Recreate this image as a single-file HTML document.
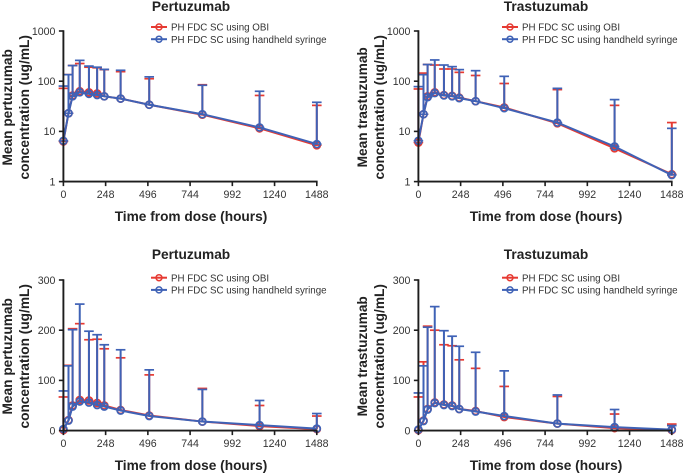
<!DOCTYPE html>
<html lang="en">
<head>
<meta charset="utf-8">
<title>Mean pertuzumab and trastuzumab concentration</title>
<style>
html,body{margin:0;padding:0;background:#fff;width:685px;height:474px;overflow:hidden}
svg{display:block;font-family:"Liberation Sans",Arial,sans-serif;filter:blur(0.3px)}
.tick{font-size:10.6px;fill:#333}
.legend{font-size:9.75px;fill:#333}
.title{font-size:13.7px;font-weight:bold;fill:#222}
.axt{font-size:13.7px;font-weight:bold;fill:#222}
</style>
</head>
<body>
<svg id="chart" xmlns="http://www.w3.org/2000/svg" width="685" height="474" viewBox="0 0 685 474"></svg>
<script>
const times = [0, 30, 54, 96, 150, 198, 240, 336, 504, 816, 1152, 1488];
const xTickLabels = [0, 248, 496, 744, 992, 1240, 1488];
const logTickLabels = [1, 10, 100, 1000];
const linearTickLabels = [0, 100, 200, 300];
const seriesNames = ["PH FDC SC using OBI", "PH FDC SC using handheld syringe"];

const pertLogObiMean = [6.3, 23, 52, 63, 60, 57, 50, 45, 34, 21.5, 11.5, 5.3];
const pertLogSyrMean = [6.5, 23, 50, 60, 56, 53, 50, 45, 34, 22, 12, 5.6];
const pertLogObiUpper = [72, 135, 205, 225, 190, 185, 170, 155, 112, 85, 52, 33];
const pertLogSyrUpper = [80, 135, 205, 260, 200, 190, 172, 165, 122, 83, 63, 38];

const trasLogObiMean = [6, 22, 50, 60, 53, 51, 47, 40, 30, 14.5, 4.6, 1.4];
const trasLogSyrMean = [6.5, 22, 48, 58, 52, 50, 46, 40, 29, 15, 5, 1.35];
const trasLogObiUpper = [70, 145, 215, 210, 175, 175, 150, 130, 90, 68, 33, 15];
const trasLogSyrUpper = [78, 135, 215, 265, 210, 195, 170, 162, 125, 72, 43, 11.5];

const pertLinObiMean = [1, 21, 50, 61, 60, 55, 50, 41, 30, 18, 9, 3];
const pertLinSyrMean = [3, 20, 48, 58, 56, 51, 48, 40, 29, 18, 11, 4];
const pertLinObiUpper = [67, 130, 203, 213, 181, 182, 163, 145, 111, 84, 50, 29];
const pertLinSyrUpper = [79, 129, 201, 252, 198, 191, 171, 161, 121, 82, 60, 34];

const trasLinObiMean = [1, 20, 43, 56, 52, 50, 43, 39, 27, 14, 5, 1];
const trasLinSyrMean = [2, 19, 42, 55, 51, 49, 43, 38, 29, 14, 7, 2];
const trasLinObiUpper = [67, 137, 208, 200, 171, 169, 141, 124, 88, 68, 33, 13];
const trasLinSyrUpper = [75, 129, 206, 247, 199, 188, 168, 156, 119, 71, 42, 10];

const RED = "#e63a32";
const BLUE = "#3f62b6";
const AXIS = "#1d1d1d";
const NS = "http://www.w3.org/2000/svg";
const root = document.getElementById("chart");

function make(parent, tag, props, text) {
  const node = document.createElementNS(NS, tag);
  for (const k in props) node.setAttribute(k, props[k]);
  if (text !== undefined) node.textContent = text;
  parent.appendChild(node);
  return node;
}

function drawSeries(panel, sx, sy, mean, upper, color, key, withLowerCap) {
  const g = make(panel, "g", {});
  
  
  times.forEach(function (t, i) {
    const x = sx(t);
    const bar = make(g, "line", {x1: x, x2: x, y1: sy(mean[i]), y2: sy(upper[i]), stroke: color, "stroke-width": 2});
    
    
    const cap = make(g, "line", {x1: x - 4.8, x2: x + 4.8, y1: sy(upper[i]), y2: sy(upper[i]), stroke: color, "stroke-width": 1.7});
    
    
    if (withLowerCap) {
      const low = make(g, "line", {x1: x - 4.8, x2: x + 4.8, y1: sy(mean[i]), y2: sy(mean[i]), stroke: color, "stroke-width": 1.4});
      
      
    }
  });
  const pts = times.map(function (t, i) { return sx(t).toFixed(2) + "," + sy(mean[i]).toFixed(2); }).join(" ");
  const line = make(g, "polyline", {points: pts, fill: "none", stroke: color, "stroke-width": 2});
  
  
  times.forEach(function (t, i) {
    const c = make(g, "circle", {cx: sx(t), cy: sy(mean[i]), r: 3.5, fill: "none", stroke: color, "stroke-width": 1.7});
    
    
  });
}

function drawPanel(cfg) {
  const panel = make(root, "g", {});
  
  
  const x0 = cfg.x0, x1 = cfg.x1, yTop = cfg.yTop, yBot = cfg.yBot;
  const sx = function (t) { return x0 + (t / 1488) * (x1 - x0); };
  const sy = cfg.log
    ? function (v) { return yBot - (Math.log10(v) / 3) * (yBot - yTop); }
    : function (v) { return yBot - (v / 300) * (yBot - yTop); };
  const cx = cfg.cx, tBase = yTop - (cfg.log ? 20 : 21);

  const title = make(panel, "text", {x: cx, y: tBase, "text-anchor": "middle", class: "title"}, cfg.title);
  
  

  drawSeries(panel, sx, sy, cfg.obiMean, cfg.obiUpper, RED, "obi", cfg.log);
  drawSeries(panel, sx, sy, cfg.syrMean, cfg.syrUpper, BLUE, "syringe", cfg.log);

  const yAxis = make(panel, "line", {x1: x0, x2: x0, y1: yTop - 0.8, y2: yBot + 0.8, stroke: AXIS, "stroke-width": 1.9});
  
  
  const xAxis = make(panel, "line", {x1: x0, x2: x1 + 0.8, y1: yBot, y2: yBot, stroke: AXIS, "stroke-width": 1.9});
  
  

  const yTicks = cfg.log ? logTickLabels : linearTickLabels;
  yTicks.forEach(function (v) {
    const y = sy(v);
    const m = make(panel, "line", {x1: x0 - 4.5, x2: x0, y1: y, y2: y, stroke: AXIS, "stroke-width": 1.6});
    
    
    const l = make(panel, "text", {x: x0 - 8, y: y + 3.8, "text-anchor": "end", class: "tick"}, String(v));
    
    
  });
  xTickLabels.forEach(function (v) {
    const x = sx(v);
    const m = make(panel, "line", {x1: x, x2: x, y1: yBot, y2: yBot + 4.5, stroke: AXIS, "stroke-width": 1.6});
    
    
    const l = make(panel, "text", {x: x, y: yBot + 16.5, "text-anchor": "middle", class: "tick"}, String(v));
    
    
  });

  const xt = make(panel, "text", {x: cx, y: yBot + 39.5, "text-anchor": "middle", class: "axt"}, "Time from dose (hours)");
  
  

  const yc = (yTop + yBot) / 2 + 1;
  const y1 = make(panel, "text", {transform: "translate(" + cfg.yb1 + " " + yc + ") rotate(-90)", "text-anchor": "middle", class: "axt"}, cfg.yLine1);
  
  
  const y2 = make(panel, "text", {transform: "translate(" + cfg.yb2 + " " + yc + ") rotate(-90)", "text-anchor": "middle", class: "axt"}, "concentration (ug/mL)");
  
  

  const legend = make(panel, "g", {});
  
  
  [RED, BLUE].forEach(function (color, i) {
    const ly = yTop + (cfg.log ? -4 : -2.3) + i * 12.2;
    const ll = make(legend, "line", {x1: cfg.lx, x2: cfg.lx + 16, y1: ly, y2: ly, stroke: color, "stroke-width": 2});
    
    
    const lc = make(legend, "circle", {cx: cfg.lx + 8, cy: ly, r: 3, fill: "none", stroke: color, "stroke-width": 1.5});
    
    
    const lt = make(legend, "text", {x: cfg.lx + 20, y: ly + 3.6, class: "legend"}, seriesNames[i]);
    
    
  });
}

drawPanel({key: "pertuzumab-log", title: "Pertuzumab", log: true, x0: 63.4, x1: 316.8, yTop: 31, yBot: 181.6, cx: 191, lx: 151, yb1: 12, yb2: 29, yLine1: "Mean pertuzumab",
  obiMean: pertLogObiMean, syrMean: pertLogSyrMean, obiUpper: pertLogObiUpper, syrUpper: pertLogSyrUpper});
drawPanel({key: "trastuzumab-log", title: "Trastuzumab", log: true, x0: 418.4, x1: 671.8, yTop: 31, yBot: 181.6, cx: 546, lx: 502, yb1: 367, yb2: 384, yLine1: "Mean trastuzumab",
  obiMean: trasLogObiMean, syrMean: trasLogSyrMean, obiUpper: trasLogObiUpper, syrUpper: trasLogSyrUpper});
drawPanel({key: "pertuzumab-linear", title: "Pertuzumab", log: false, x0: 63.4, x1: 316.8, yTop: 280, yBot: 430.6, cx: 191, lx: 151, yb1: 12, yb2: 29, yLine1: "Mean pertuzumab",
  obiMean: pertLinObiMean, syrMean: pertLinSyrMean, obiUpper: pertLinObiUpper, syrUpper: pertLinSyrUpper});
drawPanel({key: "trastuzumab-linear", title: "Trastuzumab", log: false, x0: 418.4, x1: 671.8, yTop: 280, yBot: 430.6, cx: 546, lx: 502, yb1: 367, yb2: 384, yLine1: "Mean trastuzumab",
  obiMean: trasLinObiMean, syrMean: trasLinSyrMean, obiUpper: trasLinObiUpper, syrUpper: trasLinSyrUpper});
</script>
</body>
</html>
